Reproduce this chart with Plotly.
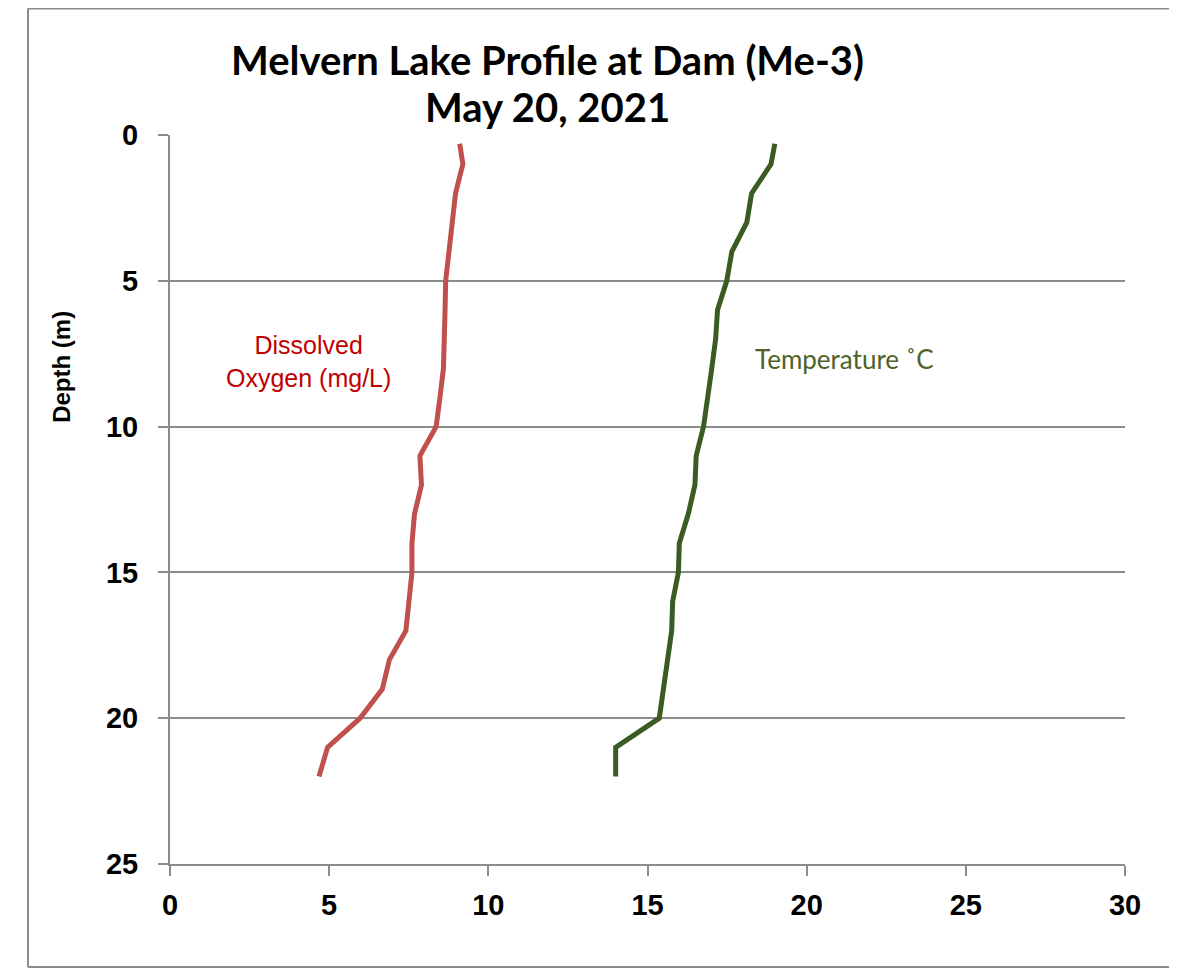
import plotly.graph_objs as go

# Profile data (depth in m)
depth = [0.3, 1, 2, 3, 4, 5, 6, 7, 8, 9, 10, 11, 12, 13, 14, 15, 16, 17, 18, 19, 20, 21, 22]
oxygen = [9.1, 9.2, 8.97, 8.87, 8.78, 8.66, 8.64, 8.61, 8.59, 8.48, 8.36, 7.85, 7.9,
          7.68, 7.6, 7.6, 7.52, 7.41, 6.89, 6.67, 5.97, 4.95, 4.68]
temperature = [19.0, 18.88, 18.27, 18.12, 17.65, 17.49, 17.2, 17.14, 17.02, 16.88, 16.76,
               16.53, 16.49, 16.28, 16.0, 15.97, 15.79, 15.76, 15.64, 15.52, 15.37, 14.0, 14.0]

fig = go.Figure()
fig.add_trace(go.Scatter(x=oxygen, y=depth, mode='lines',
                         line=dict(color='#C0504D', width=5), showlegend=False))
fig.add_trace(go.Scatter(x=temperature, y=depth, mode='lines',
                         line=dict(color='#3A5C22', width=5), showlegend=False))

tick_font = dict(family='Arial', size=29, color='black', weight='bold')

fig.update_layout(
    width=1169, height=960,
    margin=dict(l=162, r=52, t=127, b=104),
    paper_bgcolor='white', plot_bgcolor='white',
    xaxis=dict(range=[0, 30], dtick=5, showgrid=False, zeroline=False,
               showline=True, linecolor='#8C8C8C', linewidth=2,
               ticks='outside', ticklen=10, tickcolor='#8C8C8C', tickwidth=2,
               tickfont=tick_font, ticklabelstandoff=4),
    yaxis=dict(range=[25, 0], dtick=5, showgrid=True, gridcolor='#8C8C8C', gridwidth=2,
               zeroline=False, showline=True, linecolor='#8C8C8C', linewidth=2,
               ticks='outside', ticklen=10, tickcolor='#8C8C8C', tickwidth=2,
               tickfont=tick_font, ticklabelstandoff=14),
)

# outer chart frame (left, top, bottom edges only; right edge is off-page)
frame = dict(color='#8C8C8C', width=2)
fx0, fx1, fy0, fy1 = -0.1487, 1.2, -0.1413, 1.1735
fig.add_shape(type='line', xref='paper', yref='paper', x0=fx0, x1=fx0, y0=fy0, y1=fy1, line=frame)
fig.add_shape(type='line', xref='paper', yref='paper', x0=fx0, x1=fx1, y0=fy1, y1=fy1, line=frame)
fig.add_shape(type='line', xref='paper', yref='paper', x0=fx0, x1=fx1, y0=fy0, y1=fy0, line=frame)

# title lines
title_font = dict(family='Lato', size=40, color='black', weight='bold')
fig.add_annotation(xref='paper', yref='paper', x=0.395, y=1.1029,
                   xanchor='center', yanchor='middle',
                   text='Melvern Lake Profile at Dam (Me-3)', showarrow=False,
                   font=title_font)
fig.add_annotation(xref='paper', yref='paper', x=0.395, y=1.0384,
                   xanchor='center', yanchor='middle',
                   text='May 20, 2021', showarrow=False, font=title_font)

# y axis title
fig.add_annotation(xref='paper', yref='y', x=-0.1131, y=7.95, text='Depth (m)',
                   xanchor='center', yanchor='middle', textangle=-90, showarrow=False,
                   font=dict(family='Arial', size=24, color='black', weight='bold'))

fig.add_annotation(x=4.34, y=7.78, text='Dissolved<br>Oxygen (mg/L)', showarrow=False,
                   font=dict(family='Arial', size=25, color='#C00000'))
fig.add_annotation(x=21.2, y=7.68, text='Temperature ˚C', showarrow=False,
                   font=dict(family='Lato', size=26, color='#4F6228'))

fig.write_html("out.html")
